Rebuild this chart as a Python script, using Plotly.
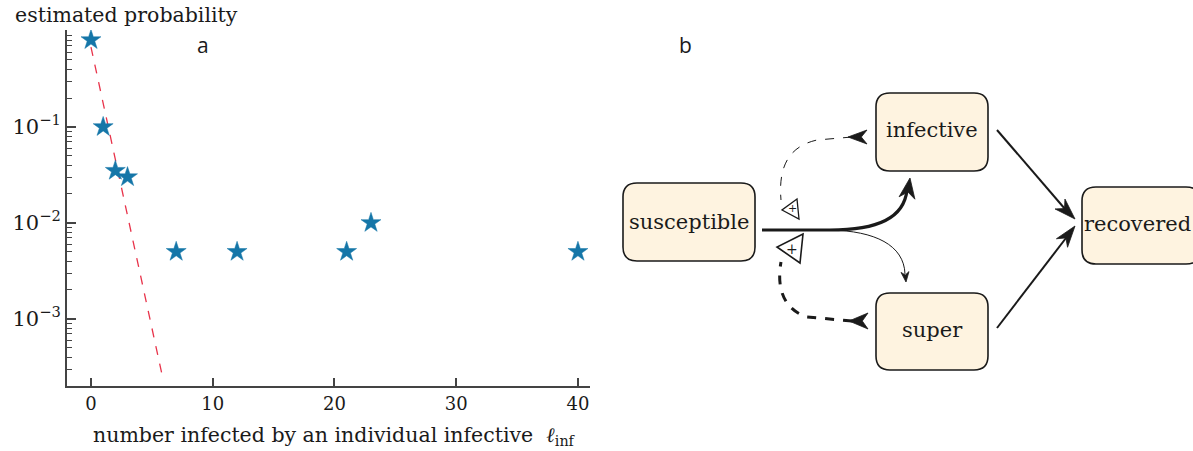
import plotly.graph_objects as go

W, H = 1193, 451

# observed offspring counts and their estimated probabilities
offspring = [0, 1, 2, 3, 7, 12, 21, 23, 40]
probability = [0.805, 0.1, 0.035, 0.03, 0.005, 0.005, 0.005, 0.01, 0.005]

# geometric fit, drawn between its end points
fit_x = [0, 5.9]
fit_y = [0.68, 2.4e-4]

y_major = [1e-1, 1e-2, 1e-3]
y_major_text = ["10<sup>−1</sup>", "10<sup>−2</sup>", "10<sup>−3</sup>"]
x_ticks = [0, 10, 20, 30, 40]

SERIF = "DejaVu Serif"
SANS = "Open Sans"
AXIS = "#444444"
STAR = "#1576a8"
FIT = "#e8334a"
BOX_FILL = "#fef3e0"
INK = "#1a1a1a"


def px(x, y):
    """pixel position -> paper coordinates"""
    return x / W, 1 - y / H


def pt(x, y):
    a, b = px(x, y)
    return f"{a:.5f},{b:.5f}"


def path_shape(d, color=INK, width=1.5, dash="solid", fill=None):
    s = dict(type="path", xref="paper", yref="paper", path=d,
             line=dict(color=color, width=width, dash=dash))
    if fill is not None:
        s["fillcolor"] = fill
    return s


def rounded_box(x0, y0, x1, y1, r=14):
    d = (f"M{pt(x0 + r, y0)} L{pt(x1 - r, y0)} Q{pt(x1, y0)} {pt(x1, y0 + r)} "
         f"L{pt(x1, y1 - r)} Q{pt(x1, y1)} {pt(x1 - r, y1)} "
         f"L{pt(x0 + r, y1)} Q{pt(x0, y1)} {pt(x0, y1 - r)} "
         f"L{pt(x0, y0 + r)} Q{pt(x0, y0)} {pt(x0 + r, y0)} Z")
    return path_shape(d, color=INK, width=1.6, fill=BOX_FILL)


def stealth(tip, back, half_w, notch=0.3):
    """filled stealth arrowhead; tip and back-centre in pixels"""
    tx, ty = tip
    bx, by = back
    dx, dy = tx - bx, ty - by
    n = (dx * dx + dy * dy) ** 0.5
    ux, uy = dx / n, dy / n
    nx, ny = -uy, ux
    l = (bx + nx * half_w, by + ny * half_w)
    r = (bx - nx * half_w, by - ny * half_w)
    m = (bx + dx * notch, by + dy * notch)
    d = f"M{pt(*tip)} L{pt(*l)} L{pt(*m)} L{pt(*r)} Z"
    return path_shape(d, color=INK, width=0.8, fill=INK)


fig = go.Figure()

fig.add_trace(go.Scatter(
    x=fit_x, y=fit_y, mode="lines",
    line=dict(color=FIT, width=1.3, dash="dash"),
    showlegend=False, hoverinfo="skip"))

fig.add_trace(go.Scatter(
    x=offspring, y=probability, mode="markers",
    marker=dict(symbol="star", size=15, color=STAR,
                line=dict(color=STAR, width=0.5)),
    showlegend=False))

shapes = []

# compartments
shapes.append(rounded_box(623, 183, 755, 261))
shapes.append(rounded_box(876, 93, 988, 171))
shapes.append(rounded_box(876, 293, 988, 370))
shapes.append(rounded_box(1082, 187, 1200, 264))

# susceptible -> infective (main flow)
shapes.append(path_shape(
    f"M{pt(762, 230)} L{pt(830, 230)} C{pt(878, 230)} {pt(904, 218)} {pt(907, 190)}",
    width=3.2))
shapes.append(stealth((910, 178), (907, 198), 8))

# susceptible -> super (minor flow)
shapes.append(path_shape(
    f"M{pt(830, 230)} C{pt(875, 231)} {pt(904, 245)} {pt(905, 274)}",
    width=1.0))
shapes.append(stealth((906, 282), (905, 272), 4))

# infective -> recovered, super -> recovered
shapes.append(path_shape(f"M{pt(997, 130)} L{pt(1065, 209)}", width=2.0))
shapes.append(stealth((1075, 219), (1060, 204), 7))
shapes.append(path_shape(f"M{pt(997, 328)} L{pt(1066, 238)}", width=2.0))
shapes.append(stealth((1075, 226), (1062, 243), 7))

# feedback from infective (thin dashed)
shapes.append(path_shape(
    f"M{pt(852, 137)} L{pt(817, 140)} C{pt(790, 146)} {pt(778, 165)} {pt(781, 200)}",
    width=1.0, dash="dash"))
shapes.append(stealth((848, 137), (867, 137), 7, notch=0.3))
shapes.append(path_shape(
    f"M{pt(797, 199)} L{pt(782, 210)} L{pt(799, 219)} Z", width=1.3, fill="white"))

# feedback from super (thick dashed)
shapes.append(path_shape(
    f"M{pt(852, 321)} L{pt(807, 317)} C{pt(785, 310)} {pt(776, 290)} {pt(781, 262)}",
    width=3.0, dash="dash"))
shapes.append(stealth((849, 321), (868, 321), 8, notch=0.3))
shapes.append(path_shape(
    f"M{pt(803, 234)} L{pt(777, 247)} L{pt(800, 263)} Z", width=1.6, fill="white"))

annotations = []


def label(text, x, y, size, family=SERIF, color=INK, xanchor="center"):
    a, b = px(x, y)
    annotations.append(dict(text=text, x=a, y=b, xref="paper", yref="paper",
                            showarrow=False, xanchor=xanchor, yanchor="middle",
                            font=dict(family=family, size=size, color=color)))


label("susceptible", 689, 222, 21)
label("infective", 932, 130, 21)
label("super", 932, 330, 21)
label("recovered", 1137, 224, 21)
label("+", 792, 209, 11)
label("+", 792, 249, 14)
label("a", 203, 45, 21, family=SANS)
label("b", 685, 45, 21, family=SANS)
label("estimated probability", 126, 15, 20.5)
label("number infected by an individual infective  <i>ℓ</i><sub>inf</sub>", 334, 436, 20.5)

fig.update_layout(
    width=W, height=H, autosize=False,
    margin=dict(l=0, r=0, t=0, b=0),
    paper_bgcolor="white", plot_bgcolor="white",
    shapes=shapes, annotations=annotations,
    xaxis=dict(
        domain=[67 / W, 590 / W], range=[-1.97, 40.99],
        tickvals=x_ticks, ticks="inside", ticklen=8, tickwidth=1.6,
        tickcolor=AXIS, showline=True, linecolor=AXIS, linewidth=1.8,
        showgrid=False, zeroline=False,
        tickfont=dict(family=SERIF, size=18, color=INK)),
    yaxis=dict(
        type="log", domain=[1 - 386 / H, 1 - 30 / H], range=[-3.70, 0.01],
        tickvals=y_major, ticktext=y_major_text,
        ticks="inside", ticklen=9, tickwidth=1.6, tickcolor=AXIS,
        showline=True, linecolor=AXIS, linewidth=1.8,
        showgrid=False, zeroline=False,
        tickfont=dict(family=SERIF, size=21, color=INK),
        minor=dict(
            tickvals=[m * 10 ** e for e in (-4, -3, -2, -1) for m in range(2, 10)],
            ticks="inside", ticklen=5, tickwidth=1.2, tickcolor=AXIS,
            showgrid=False)),
)

fig.write_html("out.html")
